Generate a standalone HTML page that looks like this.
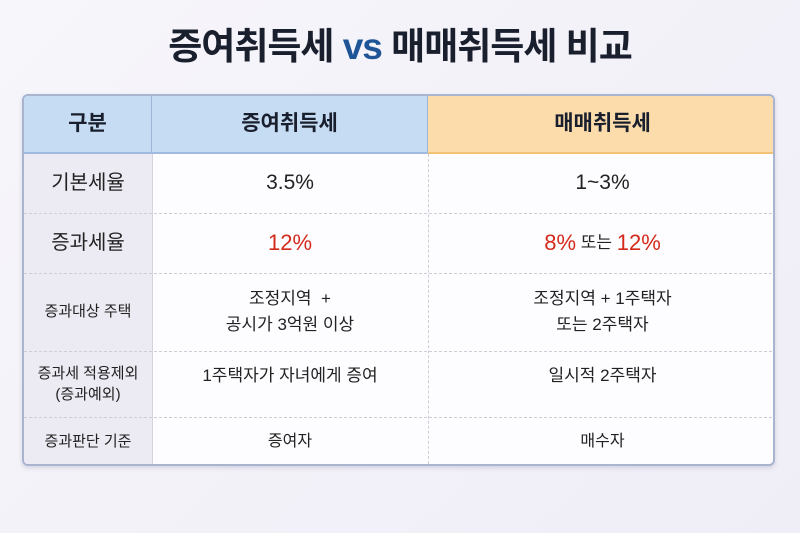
<!DOCTYPE html>
<html><head><meta charset="utf-8"><style>
body{margin:0;width:800px;height:533px;background:linear-gradient(135deg,#f7f6fb,#efedf6);font-family:"Liberation Sans","Noto Sans CJK KR",sans-serif;overflow:hidden;position:relative;color:#222}
.t{position:absolute;top:16px;left:0;width:800px;text-align:center;font-size:37px;font-weight:bold;color:#1a1f2e;letter-spacing:-1px}
.t span{color:#1f5597}
.tbl{position:absolute;left:22px;top:94px;width:753px;height:372px;background:#fdfcfe;border:2px solid #a9b4cf;border-radius:6px;box-sizing:border-box;overflow:hidden;box-shadow:0 2px 4px rgba(120,120,160,.25)}
.c{position:absolute;display:flex;align-items:center;justify-content:center;text-align:center;box-sizing:border-box;line-height:1.55}
.h{font-size:21px;font-weight:bold;color:#1a1f2e}
.r{color:#d42a1c;font-size:22px}
</style></head><body>
<div class="t">증여취득세 <span>vs</span> 매매취득세 비교</div>
<div class="tbl">
<div class="c h" style="left:0;top:0;width:128px;height:58px;background:#c6dcf3;border-right:1px solid #9db6d8;border-bottom:2px solid #9fbce0">구분</div>
<div class="c h" style="left:128px;top:0;width:276px;height:58px;background:#c6dcf3;border-right:1px solid #9db6d8;border-bottom:2px solid #9fbce0">증여취득세</div>
<div class="c h" style="left:404px;top:0;width:349px;height:58px;background:#fbdcaa;border-bottom:2px solid #f1c278">매매취득세</div>
<div style="position:absolute;left:0;top:58px;width:128px;height:320px;background:#eceaf2;border-right:1px solid #d5d3de"></div>
<div style="position:absolute;left:404px;top:58px;height:320px;border-left:1px dashed #d0cdd8"></div>
<div style="position:absolute;left:0;top:117px;width:753px;border-top:1px dashed #d0cdd8"></div>
<div style="position:absolute;left:0;top:177px;width:753px;border-top:1px dashed #d0cdd8"></div>
<div style="position:absolute;left:0;top:255px;width:753px;border-top:1px dashed #d0cdd8"></div>
<div style="position:absolute;left:0;top:321px;width:753px;border-top:1px dashed #d0cdd8"></div>

<div class="c" style="left:0;top:58px;width:128px;height:59px;font-size:20px">기본세율</div>
<div class="c" style="left:128px;top:58px;width:276px;height:59px;font-size:21px">3.5%</div>
<div class="c" style="left:404px;top:58px;width:349px;height:59px;font-size:21px">1~3%</div>

<div class="c" style="left:0;top:117px;width:128px;height:60px;font-size:20px">증과세율</div>
<div class="c r" style="left:128px;top:117px;width:276px;height:60px">12%</div>
<div class="c" style="left:404px;top:117px;width:349px;height:60px;font-size:17px"><span class="r">8%</span>&nbsp;또는&nbsp;<span class="r">12%</span></div>

<div class="c" style="left:0;top:177px;width:128px;height:78px;font-size:15px">증과대상 주택</div>
<div class="c" style="left:128px;top:177px;width:276px;height:78px;font-size:17px">조정지역 &nbsp;+<br>공시가 3억원 이상</div>
<div class="c" style="left:404px;top:177px;width:349px;height:78px;font-size:17px">조정지역 + 1주택자<br>또는 2주택자</div>

<div class="c" style="left:0;top:255px;width:128px;height:66px;font-size:15px;line-height:1.4">증과세 적용제외<br>(증과예외)</div>
<div class="c" style="left:128px;top:255px;width:276px;height:50px;font-size:17px">1주택자가 자녀에게 증여</div>
<div class="c" style="left:404px;top:255px;width:349px;height:50px;font-size:17px">일시적 2주택자</div>

<div class="c" style="left:0;top:321px;width:128px;height:50px;font-size:15px">증과판단 기준</div>
<div class="c" style="left:128px;top:321px;width:276px;height:50px;font-size:16px">증여자</div>
<div class="c" style="left:404px;top:321px;width:349px;height:50px;font-size:16px">매수자</div>
</div>
</body></html>
